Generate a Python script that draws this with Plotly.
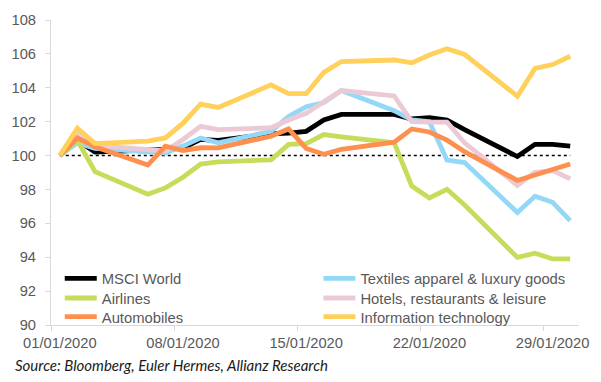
import plotly.graph_objects as go

dates = ["2020-01-01", "2020-01-02", "2020-01-03", "2020-01-06", "2020-01-07",
         "2020-01-08", "2020-01-09", "2020-01-10", "2020-01-13", "2020-01-14",
         "2020-01-15", "2020-01-16", "2020-01-17", "2020-01-20", "2020-01-21",
         "2020-01-22", "2020-01-23", "2020-01-24", "2020-01-27", "2020-01-28",
         "2020-01-29", "2020-01-30"]

msci_world = [100, 100.9, 100.21, 100.3, 100.37, 100.44, 100.95, 100.89, 101.28, 101.33,
              101.43, 102.1, 102.43, 102.43, 102.16, 102.24, 102.1, 101.53, 99.94, 100.66,
              100.66, 100.56]
textiles = [100, 100.75, 100.42, 100.21, 100.14, 100.56, 101.04, 100.75, 101.43, 102.3,
            102.88, 103.13, 103.84, 102.65, 102.1, 102.0, 99.73, 99.59, 96.64, 97.6,
            97.24, 96.16]
airlines = [100, 100.9, 99.05, 97.72, 98.09, 98.72, 99.5, 99.63, 99.75, 100.66,
            100.71, 101.24, 101.1, 100.75, 98.2, 97.5, 98.01, 97.08, 93.99, 94.24,
            93.9, 93.9]
hotels = [100, 101.33, 100.6, 100.37, 100.27, 100.95, 101.72, 101.53, 101.64, 102.1,
          102.49, 103.17, 103.84, 103.52, 102.0, 101.97, 101.97, 100.75, 98.24, 99.01,
          99.11, 98.63]
automobiles = [100, 101.04, 100.52, 99.44, 100.56, 100.29, 100.46, 100.45, 101.14, 101.57,
               100.42, 100.08, 100.37, 100.79, 101.57, 101.39, 100.91, 100.23, 98.53, 98.86,
               99.17, 99.5]
info_tech = [100, 101.62, 100.71, 100.85, 101.04, 101.91, 103.03, 102.84, 104.17, 103.65,
             103.65, 104.91, 105.55, 105.64, 105.47, 105.93, 106.3, 105.97, 103.5, 105.14,
             105.37, 105.86]
baseline = [100] * len(dates)

tick_dates = ["2020-01-01", "2020-01-08", "2020-01-15", "2020-01-22", "2020-01-29"]
tick_labels = ["01/01/2020", "08/01/2020", "15/01/2020", "22/01/2020", "29/01/2020"]
minor_ticks = ["2019-12-31 12:00", "2020-01-07 12:00", "2020-01-14 12:00",
               "2020-01-21 12:00", "2020-01-28 12:00"]
y_ticks = [90, 92, 94, 96, 98, 100, 102, 104, 106, 108]

# name, values, colour, legend id (column, row)
series = [
    ("MSCI World", msci_world, "#000000", "legend"),
    ("Textiles apparel & luxury goods", textiles, "#93D9F7", "legend4"),
    ("Airlines", airlines, "#C9DB5A", "legend2"),
    ("Hotels, restaurants & leisure", hotels, "#EBCAD6", "legend5"),
    ("Automobiles", automobiles, "#FF8F4F", "legend3"),
    ("Information technology", info_tech, "#FFD05A", "legend6"),
]

FONT = "Liberation Sans, Arial, sans-serif"
GREY = "#595959"

fig = go.Figure()
fig.add_trace(go.Scatter(x=dates, y=baseline, mode="lines", showlegend=False,
                         line=dict(color="#000000", width=1.5, dash="dot"),
                         hoverinfo="skip"))
for name, vals, color, lg in series:
    fig.add_trace(go.Scatter(x=dates, y=vals, mode="lines", name=name, legend=lg,
                             line=dict(color=color, width=4.8)))

col_x = [0.0166, 0.5065]
row_y = [0.2058, 0.1413, 0.08]


def leg(cx, ry):
    return dict(x=col_x[cx], y=row_y[ry], xanchor="left", yanchor="top",
                bgcolor="rgba(0,0,0,0)", itemwidth=32,
                font=dict(family=FONT, size=14.8, color=GREY))


fig.update_layout(
    width=601, height=382,
    margin=dict(l=44, r=16, t=15, b=57),
    plot_bgcolor="white", paper_bgcolor="white",
    font=dict(family=FONT, size=14.7, color=GREY),
    showlegend=True,
    legend=leg(0, 0), legend2=leg(0, 1), legend3=leg(0, 2),
    legend4=leg(1, 0), legend5=leg(1, 1), legend6=leg(1, 2),
    xaxis=dict(type="date", range=["2019-12-31 12:00", "2020-01-30 12:00"],
               tickmode="array", tickvals=tick_dates, ticktext=tick_labels,
               ticks="", showgrid=False, zeroline=False, ticklabelstandoff=4,
               showline=True, linecolor="#D9D9D9", linewidth=1,
               tickfont=dict(family=FONT, size=14.7, color=GREY),
               minor=dict(tickmode="array", tickvals=minor_ticks, ticks="outside",
                          ticklen=5, tickcolor="#D9D9D9", showgrid=False)),
    yaxis=dict(range=[90, 108], tickmode="array", tickvals=y_ticks,
               ticks="outside", ticklen=5, tickcolor="#D9D9D9",
               ticklabelstandoff=6,
               showgrid=False, zeroline=False,
               showline=True, linecolor="#D9D9D9", linewidth=1,
               tickfont=dict(family=FONT, size=14.7, color=GREY)),
    annotations=[dict(text="<i>Source: Bloomberg, Euler Hermes, Allianz Research</i>",
                      xref="paper", yref="paper", x=-0.0725, y=-0.1323,
                      xanchor="left", yanchor="middle", showarrow=False,
                      font=dict(family="Lato, sans-serif", size=15, color="#1A1A1A"))],
)

fig.write_html("out.html", config={"displayModeBar": False},
               post_script="document.body.style.margin='0';")
